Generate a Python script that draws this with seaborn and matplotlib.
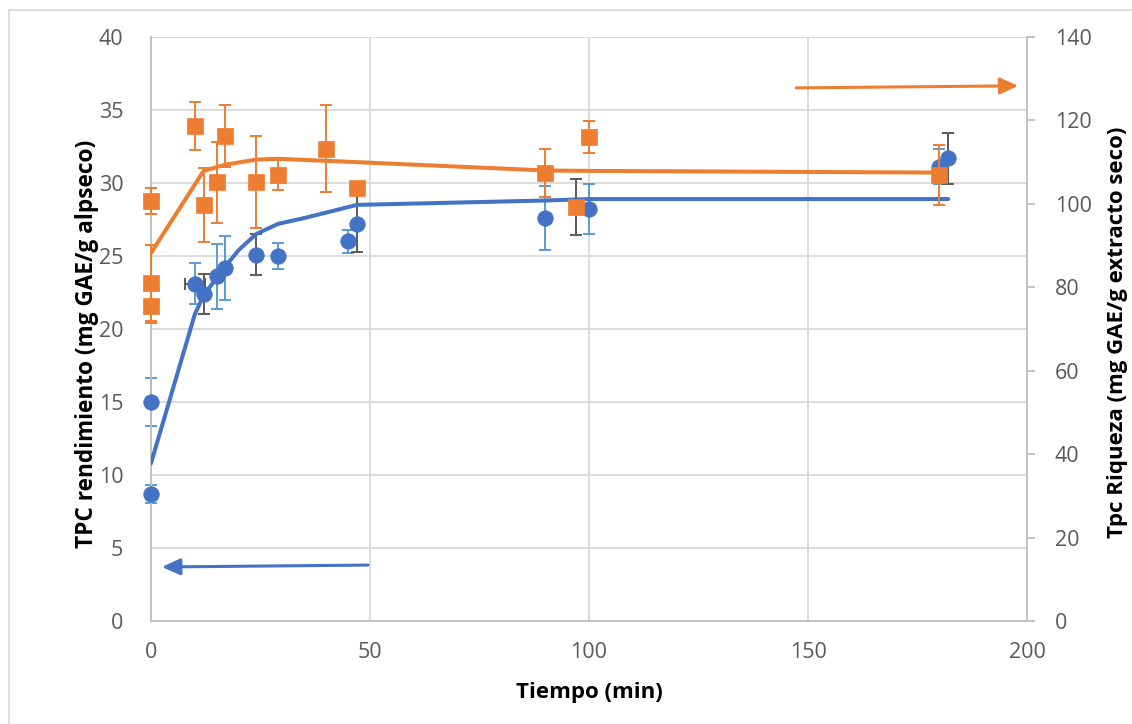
import numpy as np
import pandas as pd
import matplotlib
matplotlib.use("Agg")
import matplotlib.pyplot as plt
import seaborn as sns
from matplotlib.patches import Rectangle

# ---------------- data ----------------
blue_t   = [0, 0, 10, 12, 15, 17, 24, 29, 45, 47, 90, 100, 180, 182]
blue_v   = [15.0, 8.7, 23.1, 22.4, 23.6, 24.2, 25.1, 25.0, 26.0, 27.2, 27.6, 28.2, 31.1, 31.7]
blue_err = [1.65, 0.6, 1.4, 1.35, 2.2, 2.2, 1.4, 0.9, 0.8, 1.95, 2.2, 1.7, 1.2, 1.75]

blue_fit_t = [0, 10, 12, 15, 17, 20, 24, 29, 35, 47, 90, 100, 182]
blue_fit_v = [10.8, 21.0, 22.3, 23.5, 24.3, 25.4, 26.5, 27.2, 27.6, 28.5, 28.8, 28.9, 28.9]

orange_t   = [0, 0, 0, 10, 12, 15, 17, 24, 29, 40, 47, 90, 97, 100, 180]
orange_v   = [100.7, 81.0, 75.5, 118.7, 99.7, 105.2, 116.3, 105.2, 106.9, 113.2, 103.8, 107.4, 99.3, 116.0, 106.9]
orange_err = [3.1, 9.2, 4.0, 5.8, 8.9, 9.7, 7.5, 11.0, 3.6, 10.4, 0.0, 5.8, 6.7, 3.8, 7.1]

orange_fit_t = [0, 12, 17, 24, 29, 47, 90, 100, 180]
orange_fit_v = [88.2, 107.9, 109.4, 110.6, 110.8, 110.0, 108.0, 107.9, 107.5]

x_ticks      = [0, 50, 100, 150, 200]
left_ticks   = [0, 5, 10, 15, 20, 25, 30, 35, 40]
right_ticks  = [0, 20, 40, 60, 80, 100, 120, 140]

x_label      = "Tiempo (min)"
left_label   = "TPC rendimiento (mg GAE/g alpseco)"
right_label  = "Tpc Riqueza (mg GAE/g extracto seco)"

# ---------------- style ----------------
BLUE = "#4472C4"
LBLUE = "#5B9BD5"
ORANGE = "#ED7D31"
DARK = "#595959"
GRID = "#D9D9D9"
SPINE = "#BFBFBF"
TXT = "#595959"
dark_err_blue = {3, 6, 9, 13}      # indices with grey error bars
dark_err_orange = {12}


def unclip(container):
    for art in container.get_children():
        art.set_clip_on(False)


sns.set_theme(style="white")
plt.rcParams["font.family"] = ["Open Sans", "DejaVu Sans"]

fig = plt.figure(figsize=(11.32, 7.24), dpi=100)
ax = fig.add_axes([151/1132, 1-621/724, (1027-151)/1132, (621-37)/724])
ax2 = ax.twinx()

# chart border
fig.patches.append(Rectangle((9/1132, -0.1), 1.2, 1-10/724+0.1, transform=fig.transFigure,
                             fill=False, edgecolor="#D9D9D9", lw=1.3, zorder=0))

ax.set_xlim(0, 200)
ax.set_ylim(0, 40)
ax2.set_ylim(0, 140)
ax.set_xticks(x_ticks)
ax.set_yticks(left_ticks)
ax2.set_yticks(right_ticks)
ax.grid(True, color=GRID, lw=1.3)
ax.set_axisbelow(True)

# blue series
bdf = pd.DataFrame({"t": blue_t, "v": blue_v})
bfit = pd.DataFrame({"t": blue_fit_t, "v": blue_fit_v})
sns.lineplot(data=bfit, x="t", y="v", ax=ax, color=BLUE, lw=2.9, zorder=3)
for i, (t, v, e) in enumerate(zip(blue_t, blue_v, blue_err)):
    c = DARK if i in dark_err_blue else LBLUE
    unclip(ax.errorbar(t, v, yerr=e, fmt="none", ecolor=c, elinewidth=1.4, capsize=4.5, capthick=1.4, zorder=2))
unclip(ax.errorbar(blue_t[2], blue_v[2], xerr=2.3, fmt="none", ecolor=DARK, elinewidth=1.4, capsize=4.5,
                   capthick=1.4, zorder=2))
sns.scatterplot(data=bdf, x="t", y="v", ax=ax, color=BLUE, marker="o", s=125, edgecolor=BLUE, linewidth=0.5,
                zorder=4, clip_on=False)

# orange series
odf = pd.DataFrame({"t": orange_t, "v": orange_v})
ofit = pd.DataFrame({"t": orange_fit_t, "v": orange_fit_v})
sns.lineplot(data=ofit, x="t", y="v", ax=ax2, color=ORANGE, lw=2.9, zorder=3)
for i, (t, v, e) in enumerate(zip(orange_t, orange_v, orange_err)):
    if e <= 0:
        continue
    c = DARK if i in dark_err_orange else ORANGE
    unclip(ax2.errorbar(t, v, yerr=e, fmt="none", ecolor=c, elinewidth=1.4, capsize=4.5, capthick=1.4, zorder=2))
sns.scatterplot(data=odf, x="t", y="v", ax=ax2, color=ORANGE, marker="s", s=125, edgecolor=ORANGE, linewidth=0.5,
                zorder=4, clip_on=False)

# arrows
ax.annotate("", xy=(2.5, 3.7), xytext=(49.5, 3.83),
            arrowprops=dict(arrowstyle="-|>,head_length=0.55,head_width=0.25", color=BLUE, lw=2.2,
                            mutation_scale=20, shrinkA=0, shrinkB=0))
ax2.annotate("", xy=(198, 128.3), xytext=(147.3, 127.8),
             arrowprops=dict(arrowstyle="-|>,head_length=0.55,head_width=0.25", color=ORANGE, lw=2.2,
                             mutation_scale=20, shrinkA=0, shrinkB=0))

# spines / ticks
for a in (ax, ax2):
    for s in a.spines.values():
        s.set_visible(False)
for side in ("left", "bottom"):
    ax.spines[side].set_visible(True)
    ax.spines[side].set_color(SPINE)
    ax.spines[side].set_linewidth(1.3)
ax2.spines["right"].set_visible(True)
ax2.spines["right"].set_color(SPINE)
ax2.spines["right"].set_linewidth(1.3)

ax.tick_params(axis="both", length=0, labelsize=15.5, labelcolor=TXT)
ax.tick_params(axis="y", pad=20)
ax.tick_params(axis="x", pad=15)
ax2.tick_params(axis="y", length=6, width=1.3, color=SPINE, direction="out", labelsize=15.5, labelcolor=TXT, pad=14)

ax.set_xlabel(x_label, fontsize=16, fontweight="bold", color="black", labelpad=14)
ax.set_ylabel(left_label, fontsize=16.3, fontweight="bold", color="black", va="center")
ax2.set_ylabel(right_label, fontsize=16, fontweight="bold", color="black", va="center")
ax.yaxis.set_label_coords((87 - 151) / 876, (621 - 344) / 584)
ax2.yaxis.set_label_coords((1118 - 151) / 876, (621 - 332) / 584)

fig.savefig("out.png", dpi=100, facecolor="white")
